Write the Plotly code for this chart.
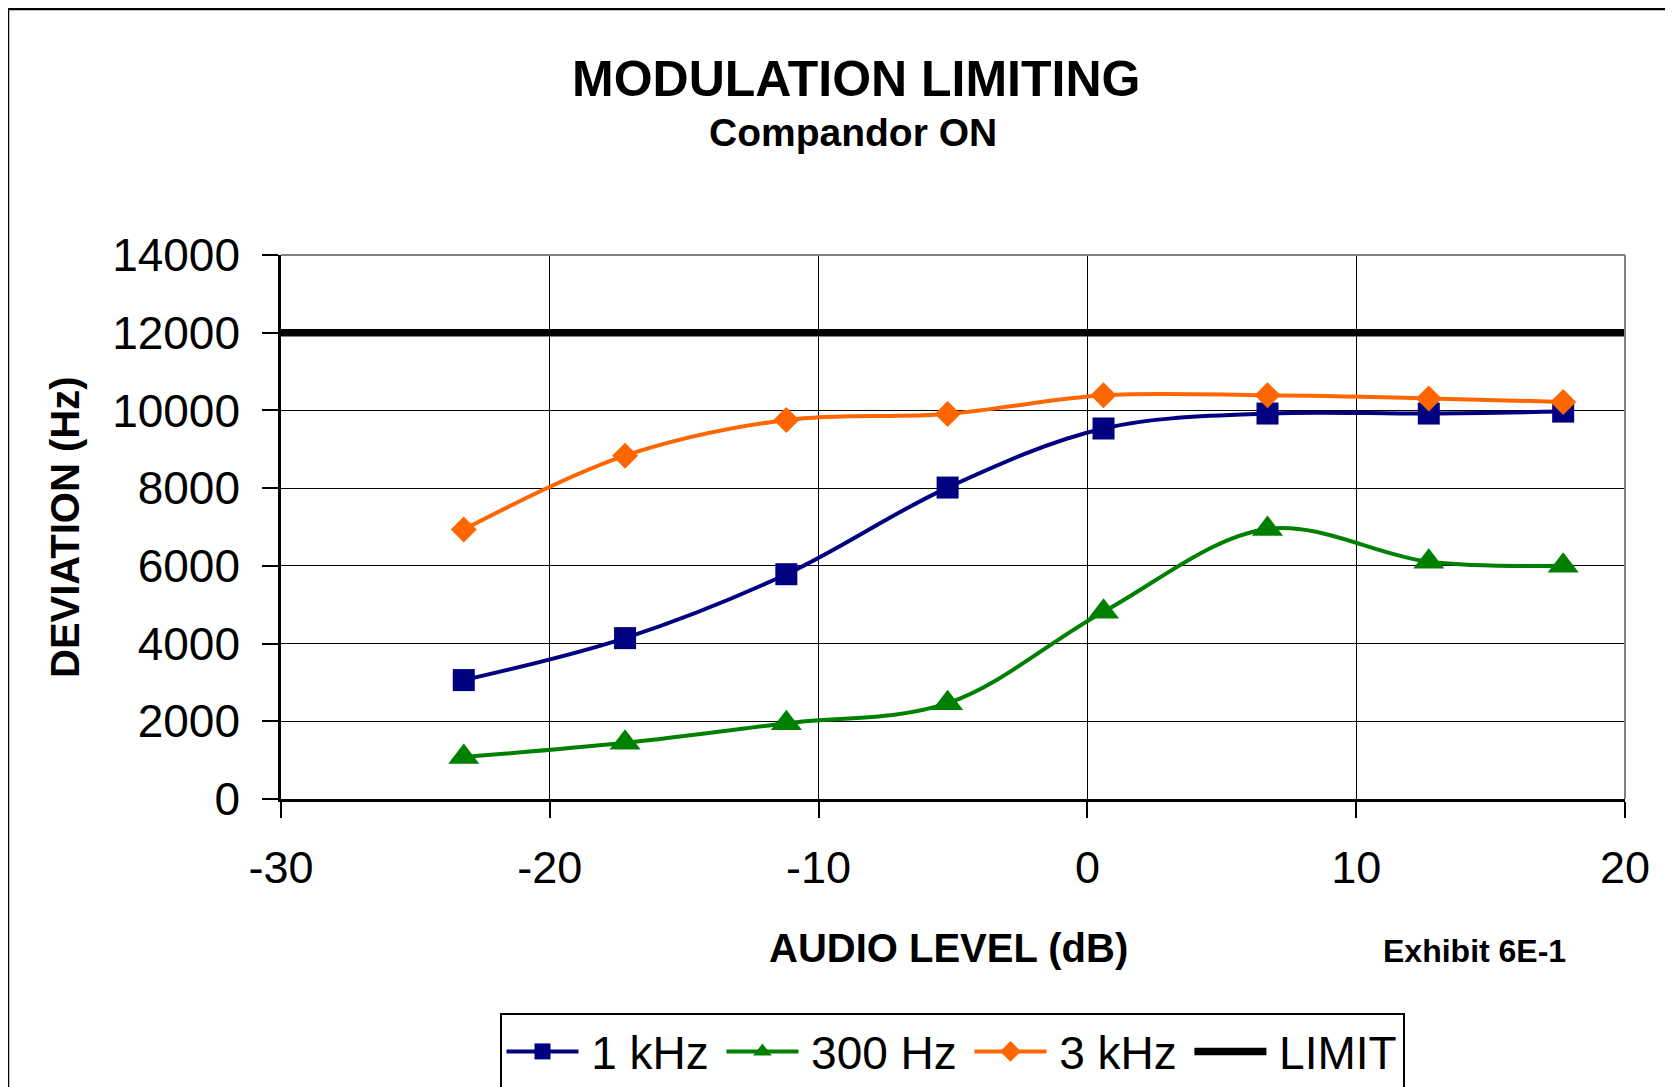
import plotly.graph_objects as go

# ---- data ----
audio_level_db = [-23.2, -17.2, -11.2, -5.2, 0.6, 6.7, 12.7, 17.7]
dev_1khz = [3060, 4140, 5785, 8015, 9535, 9920, 9920, 9970]
dev_300hz = [1080, 1445, 1950, 2465, 4820, 6950, 6105, 6005]
dev_3khz = [6935, 8835, 9755, 9910, 10390, 10390, 10310, 10220]
limit_x = [-30, 20]
limit_y = [12000, 12000]

x_ticks = [-30, -20, -10, 0, 10, 20]
y_ticks = [0, 2000, 4000, 6000, 8000, 10000, 12000, 14000]

series_names = ["1 kHz", "300 Hz", "3 kHz", "LIMIT"]

FONT = "Liberation Sans, Arial, Helvetica, sans-serif"
SP = "\u2006"  # six-per-em space for legend spacing

W, H = 1673, 1087
OFF = 8  # page body margin offset
# plot area in screen pixels: left 281, right 1625, top 255, bottom 799
L, T = 281 - OFF, 255 - OFF
R, B = W - (1625 - OFF), H - (799 - OFF)
pw, ph = W - L - R, H - T - B


def px(xs):
    return (xs - OFF - L) / pw


def py(ys):
    return (H - B - (ys - OFF)) / ph


fig = go.Figure()

fig.add_trace(go.Scatter(
    x=audio_level_db, y=dev_1khz, name=SP + series_names[0] + SP, mode="lines+markers",
    line=dict(color="#000080", width=4, shape="spline", smoothing=1),
    marker=dict(symbol="square", size=22, color="#000080"),
))
fig.add_trace(go.Scatter(
    x=audio_level_db, y=dev_300hz, name=SP + series_names[1] + SP, mode="lines+markers",
    line=dict(color="#008000", width=4, shape="spline", smoothing=1),
    marker=dict(symbol="triangle-up", size=27, color="#008000"),
))
fig.add_trace(go.Scatter(
    x=audio_level_db, y=dev_3khz, name=SP + series_names[2] + SP, mode="lines+markers",
    line=dict(color="#FF6600", width=4, shape="spline", smoothing=1),
    marker=dict(symbol="diamond", size=20, color="#FF6600"),
))
fig.add_trace(go.Scatter(
    x=limit_x, y=limit_y, name=SP + series_names[3], mode="lines",
    line=dict(color="#000000", width=7.5),
))

fig.update_layout(
    width=W, height=H,
    margin=dict(l=L, r=R, t=T, b=B, autoexpand=False),
    paper_bgcolor="white", plot_bgcolor="white",
    font=dict(family=FONT, color="black"),
    showlegend=True,
    legend=dict(
        orientation="h", x=px(952), xanchor="center", y=py(1013), yanchor="top",
        font=dict(size=46, family=FONT, color="black"),
        bordercolor="black", borderwidth=2, bgcolor="white",
        itemwidth=72, tracegroupgap=0,
    ),
    xaxis=dict(
        range=[-30, 20], tickvals=x_ticks, ticktext=[str(v) for v in x_ticks],
        showgrid=True, gridcolor="black", gridwidth=1,
        showline=True, linecolor="black", linewidth=2.5,
        ticks="outside", ticklen=16, tickwidth=2, tickcolor="black",
        tickfont=dict(size=45, family=FONT, color="black"),
        ticklabelstandoff=11,
        zeroline=False, fixedrange=True,
    ),
    yaxis=dict(
        range=[0, 14000], tickvals=y_ticks, ticktext=[str(v) for v in y_ticks],
        showgrid=True, gridcolor="black", gridwidth=1,
        showline=True, linecolor="black", linewidth=2.5,
        ticks="outside", ticklen=16, tickwidth=2, tickcolor="black",
        tickfont=dict(size=46, family=FONT, color="black"),
        ticklabelstandoff=13,
        zeroline=False, fixedrange=True,
    ),
    shapes=[
        # plot-area top and right border (gray)
        dict(type="line", xref="paper", yref="paper", x0=0, x1=1, y0=1, y1=1,
             line=dict(color="#808080", width=2), layer="above"),
        dict(type="line", xref="paper", yref="paper", x0=1, x1=1, y0=0, y1=1,
             line=dict(color="#808080", width=2), layer="above"),
        # outer chart frame
        dict(type="rect", xref="paper", yref="paper",
             x0=px(8), x1=px(1700), y0=py(9), y1=py(1110),
             line=dict(color="black", width=2.5), layer="below"),
    ],
    annotations=[
        dict(text="<b>MODULATION LIMITING</b>", xref="paper", yref="paper",
             x=px(856), y=py(79), xanchor="center", yanchor="middle",
             showarrow=False, font=dict(size=50, family=FONT, color="black")),
        dict(text="<b>Compandor ON</b>", xref="paper", yref="paper",
             x=px(853), y=py(133), xanchor="center", yanchor="middle",
             showarrow=False, font=dict(size=39, family=FONT, color="black")),
        dict(text="<b>AUDIO LEVEL (dB)</b>", xref="paper", yref="paper",
             x=px(948), y=py(948), xanchor="center", yanchor="middle",
             showarrow=False, font=dict(size=40, family=FONT, color="black")),
        dict(text="<b>DEVIATION (Hz)</b>", xref="paper", yref="paper",
             x=px(65), y=py(527), xanchor="center", yanchor="middle", textangle=-90,
             showarrow=False, font=dict(size=40, family=FONT, color="black")),
        dict(text="<b>Exhibit 6E-1</b>", xref="paper", yref="paper",
             x=px(1474), y=py(951), xanchor="center", yanchor="middle",
             showarrow=False, font=dict(size=32, family=FONT, color="black")),
    ],
)

fig.write_html("out.html")
